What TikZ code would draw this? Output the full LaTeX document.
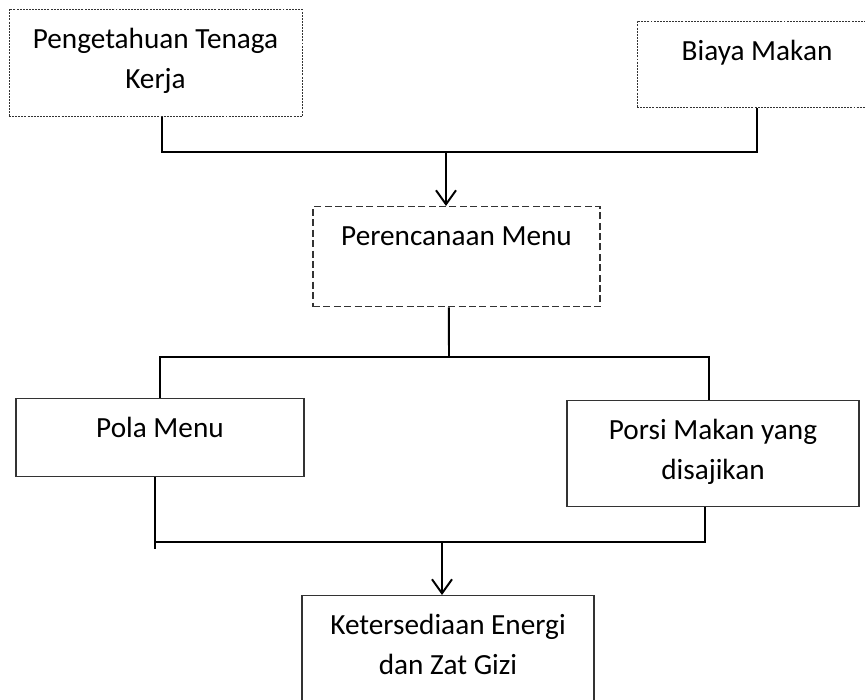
\documentclass[tikz,border=0pt]{standalone}
\usepackage{fontspec}
\setmainfont{Carlito}
\usepackage{tikz}
\usetikzlibrary{positioning,arrows.meta}

\begin{document}
\begin{tikzpicture}[>={Straight Barb[length=0.35cm,width=0.5cm]},thick,
	box/.style={rectangle,draw=black!80,line width=0.8pt,anchor=north,align=center,
		inner xsep=2pt,inner ysep=13.1pt,text height=14.6pt,font=\fontsize{20.8}{28.5}\selectfont},
	twoline/.style={text height=43.1pt},
	dotbox/.style={box,line width=0.6pt,dash pattern=on 1.4pt off 0.8pt},
	dashbox/.style={box,line width=1pt,dash pattern=on 5pt off 2.4pt},
	link/.style={line width=1.4pt}]

	\useasboundingbox (0,0) rectangle (21.625,17.5);

	% The boxes
	\node [dotbox,twoline,minimum width=7.325cm,text depth=0.24cm] at (3.8875,17.275) (tenaga) {Pengetahuan Tenaga\\Kerja};
	\node [dotbox,minimum width=6cm,text depth=0.716cm] at (18.925,16.975) (biaya) {Biaya Makan};
	\node [dashbox,minimum width=7.175cm,text depth=1.066cm] at (11.4125,12.35) (rencana) {Perencanaan Menu};
	\node [box,minimum width=7.2cm,text depth=0.516cm] at (4.0,7.55) (pola) {Pola Menu};
	\node [box,twoline,minimum width=7.3cm,text depth=0.216cm] at (17.825,7.5) (porsi) {Porsi Makan yang\\disajikan};
	\node [box,twoline,minimum width=7.3cm,text depth=0.766cm] at (11.2,2.625) (energi) {Ketersediaan Energi\\dan Zat Gizi};

	\coordinate (top) at (11.15,13.7);
	\coordinate (mid) at (11.225,8.575);
	\coordinate (low) at (11.05,3.95);

	% Connectors
	\draw [link] ([xshift=0.16cm]tenaga.south) |- (top) -| (biaya.south);
	\draw [link,->] (top) -- (top |- rencana.north);

	\draw [link] ([xshift=-0.19cm]rencana.south) -- (mid);
	\draw [link] (pola.north) |- (mid) -| ([xshift=-0.1cm]porsi.north);

	\draw [link] ([xshift=-0.125cm]pola.south) coordinate (pl) |- (low) -| ([xshift=-0.2cm]porsi.south);
	\draw [link] (pl) -- ++(0,-1.8);
	\draw [link,->] (low) -- (low |- energi.north);

\end{tikzpicture}
\end{document}
